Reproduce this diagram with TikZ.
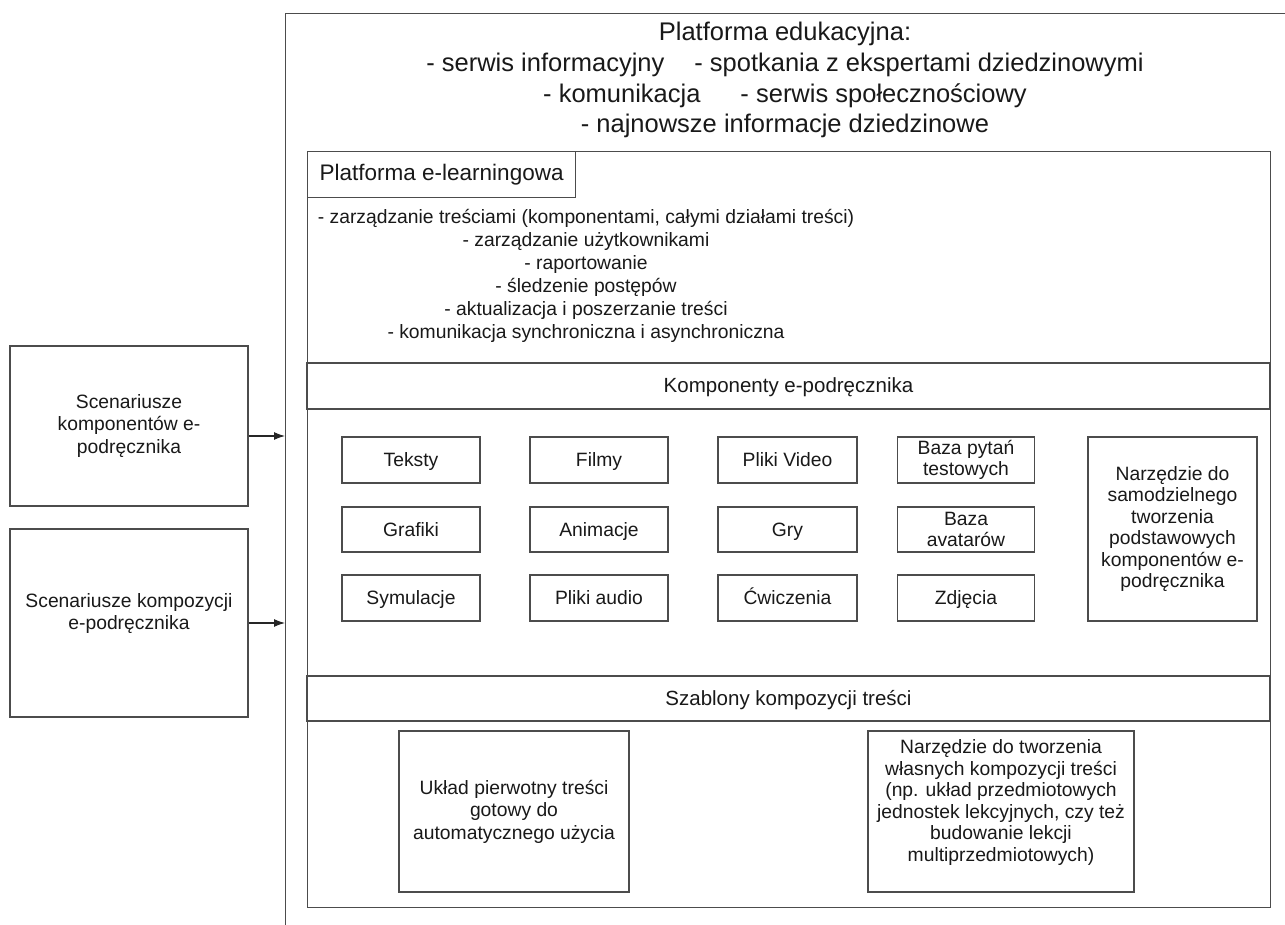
\documentclass[tikz,border=0pt]{standalone}
\usepackage{fontspec}
\setmainfont{Liberation Sans}
\usetikzlibrary{arrows.meta}
\definecolor{ln}{gray}{0.3}
\definecolor{tx}{gray}{0.1}
\begin{document}
\begin{tikzpicture}[x=1pt,y=-1pt,
  frame/.style={draw=ln,line width=1.3pt,inner sep=0pt,anchor=north west},
  box/.style={draw=ln,line width=1.2pt,inner sep=0pt,align=center,text=tx,
              font=\fontsize{19.3}{22.5}\selectfont},
  one/.style={text height=17.5pt,text depth=4.1pt},
  band/.style={draw=ln,line width=1.2pt,inner sep=0pt,text=tx,
              minimum width=963pt,font=\fontsize{20.5}{24}\selectfont},
  ttl/.style={anchor=base,text=tx,inner sep=0pt,font=\fontsize{25.5}{31}\selectfont},
  arr/.style={draw=black!85,line width=1.1pt,-{Latex[length=11pt,width=8pt]}}]
\useasboundingbox (0,0) rectangle (1285,925);
\fill[white] (0,0) rectangle (1285,925);

% outer platform frame (extends beyond the picture on right and bottom)
\node[frame,minimum width=1005pt,minimum height=925pt] (outer) at (285,13) {};

% title lines
\node[ttl] (t1) at (785,41) {Platforma edukacyjna:};
\node[ttl] (t2) at (785,72) {- serwis informacyjny\hspace{30pt}- spotkania z ekspertami dziedzinowymi};
\node[ttl] (t3) at (785,103) {- komunikacja\hspace{40pt}- serwis społecznościowy};
\node[ttl] (t4) at (785,133) {- najnowsze informacje dziedzinowe};

% inner e-learning frame
\node[frame,minimum width=963pt,minimum height=756pt] (inner) at (307,151) {};
\node[frame,minimum width=268pt,minimum height=46pt,text=tx,
      font=\fontsize{22.5}{27}\selectfont] (pe) at (307,151) {Platforma e-learningowa};

\node[align=center,text=tx,inner sep=0pt,font=\fontsize{19.3}{23.1}\selectfont] (list) at (586,276)
  {- zarządzanie treściami (komponentami, całymi działami treści)\\
   - zarządzanie użytkownikami\\
   - raportowanie\\
   - śledzenie postępów\\
   - aktualizacja i poszerzanie treści\\
   - komunikacja synchroniczna i asynchroniczna};

% bands
\node[band,one,minimum height=46pt] (komp) at (788.5,386) {Komponenty e-podręcznika};
\node[band,one,minimum height=45pt] (szab) at (788.5,698.5) {Szablony kompozycji treści};

% component grid
\node[box,one,minimum width=138pt,minimum height=46pt] (teksty) at (411,460) {Teksty};
\node[box,one,minimum width=138pt,minimum height=46pt] (filmy) at (599,460) {Filmy};
\node[box,one,minimum width=139pt,minimum height=46pt] (video) at (787.5,460) {Pliki Video};
\node[box,minimum width=137pt,minimum height=46pt,font=\fontsize{19.3}{20.5}\selectfont] (baza1) at (966,460) {Baza pytań\\testowych};

\node[box,one,minimum width=138pt,minimum height=45pt] (grafiki) at (411,529.5) {Grafiki};
\node[box,one,minimum width=138pt,minimum height=45pt] (anim) at (599,529.5) {Animacje};
\node[box,one,minimum width=139pt,minimum height=45pt] (gry) at (787.5,529.5) {Gry};
\node[box,minimum width=137pt,minimum height=45pt,font=\fontsize{19.3}{20.5}\selectfont] (baza2) at (966,529.5) {Baza\\avatarów};

\node[box,one,minimum width=138pt,minimum height=46pt] (sym) at (411,598) {Symulacje};
\node[box,one,minimum width=138pt,minimum height=46pt] (audio) at (599,598) {Pliki audio};
\node[box,one,minimum width=139pt,minimum height=46pt] (cwi) at (787.5,598) {Ćwiczenia};
\node[box,one,minimum width=137pt,minimum height=46pt] (zdj) at (966,598) {Zdjęcia};

\node[box,minimum width=169pt,minimum height=184pt,font=\fontsize{19.3}{21.5}\selectfont] (narz) at (1172.5,529)
  {Narzędzie do\\samodzielnego\\tworzenia\\podstawowych\\komponentów e-\\podręcznika};

% template boxes
\node[box,minimum width=230pt,minimum height=161pt] (uklad) at (514,811.5)
  {Układ pierwotny treści\\gotowy do\\automatycznego użycia};
\node[box,minimum width=266pt,minimum height=161pt,font=\fontsize{19.3}{21.5}\selectfont] (narz2) at (1001,811.5)
  {Narzędzie do tworzenia\\własnych kompozycji treści\\(np. układ przedmiotowych\\jednostek lekcyjnych, czy też\\budowanie lekcji\\multiprzedmiotowych)\\\mbox{}};

% scenario boxes
\node[box,minimum width=238pt,minimum height=160pt] (sc1) at (129,426)
  {Scenariusze\\komponentów e-\\podręcznika};
\node[box,minimum width=238pt,minimum height=188pt] (sc2) at (129,623)
  {Scenariusze kompozycji\\e-podręcznika\\\mbox{}};

% arrows
\draw[arr] (sc1.east |- 0,436) -- (outer.west |- 0,436);
\draw[arr] (sc2.east) -- (outer.west |- sc2.east);
\end{tikzpicture}
\end{document}
